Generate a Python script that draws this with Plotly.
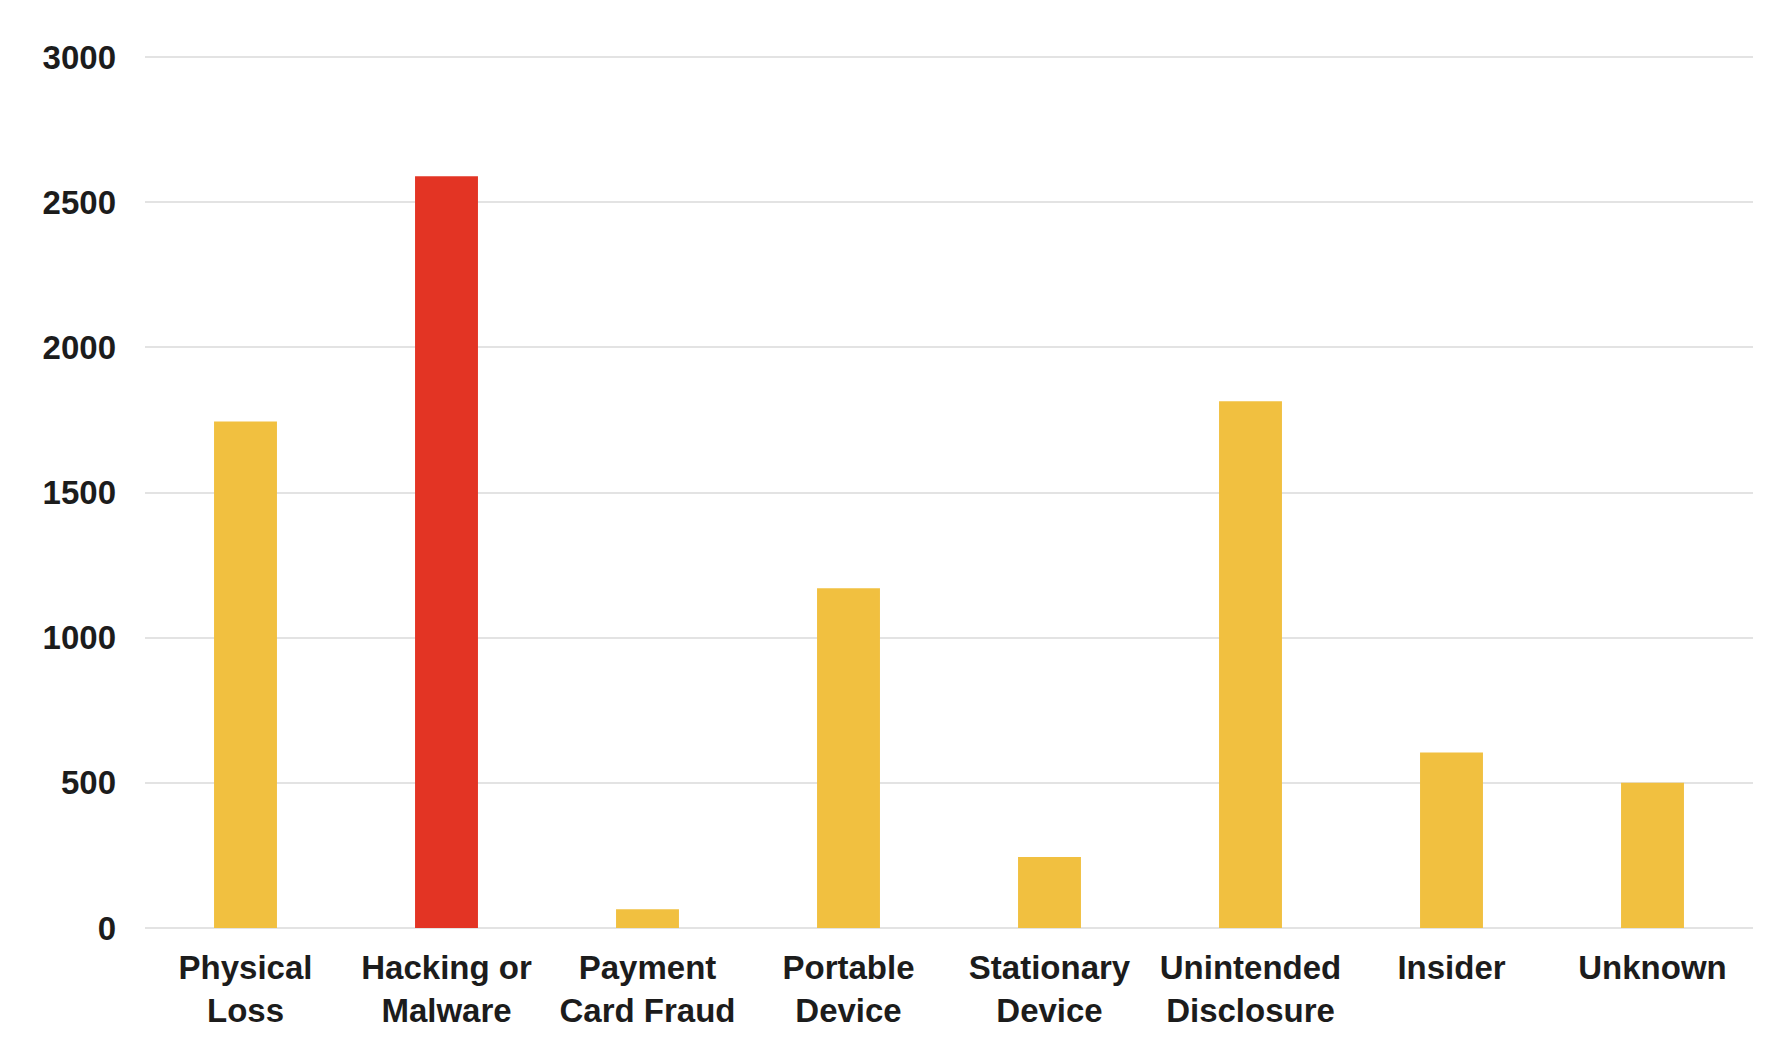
import plotly.graph_objects as go

CATEGORIES = ["Physical<br>Loss", "Hacking or<br>Malware", "Payment<br>Card Fraud",
              "Portable<br>Device", "Stationary<br>Device", "Unintended<br>Disclosure",
              "Insider", "Unknown"]
VALUES = [1745, 2590, 65, 1170, 245, 1815, 605, 500]
HIGHLIGHT = "Hacking or<br>Malware"
TICK_VALUES = [0, 500, 1000, 1500, 2000, 2500, 3000]

YELLOW = "#F1C040"
RED = "#E33424"
GRID = "#E3E3E3"
TEXT = "#1C1C1C"
FONT = "Liberation Sans, Arial, sans-serif"


def main() -> None:
    colors = [RED if c == HIGHLIGHT else YELLOW for c in CATEGORIES]
    fig = go.Figure()
    fig.add_trace(go.Bar(x=CATEGORIES, y=VALUES,
                         marker=dict(color=colors, line=dict(width=0)),
                         hoverinfo="x+y"))
    # page body adds an 8px margin, so the figure is a bit smaller
    fig.update_layout(width=1782, height=1050,
                      margin=dict(l=137, r=37, t=48, b=130),
                      paper_bgcolor="white", plot_bgcolor="white",
                      bargap=0.687, showlegend=False,
                      font=dict(family=FONT, color=TEXT, size=33))
    fig.update_xaxes(showgrid=False, showline=False, ticks="",
                     tickfont=dict(family=FONT, size=33, color=TEXT,
                                   weight="bold"),
                     ticklabelstandoff=17)
    fig.update_yaxes(range=[0, 3004], tickvals=TICK_VALUES,
                     showgrid=True, gridcolor=GRID, gridwidth=2,
                     zeroline=True, zerolinecolor=GRID, zerolinewidth=2,
                     showline=False, ticks="",
                     tickfont=dict(family=FONT, size=33, color=TEXT,
                                   weight="bold"),
                     ticklabelstandoff=28)
    fig.write_html("out.html")


if __name__ == "__main__":
    main()
